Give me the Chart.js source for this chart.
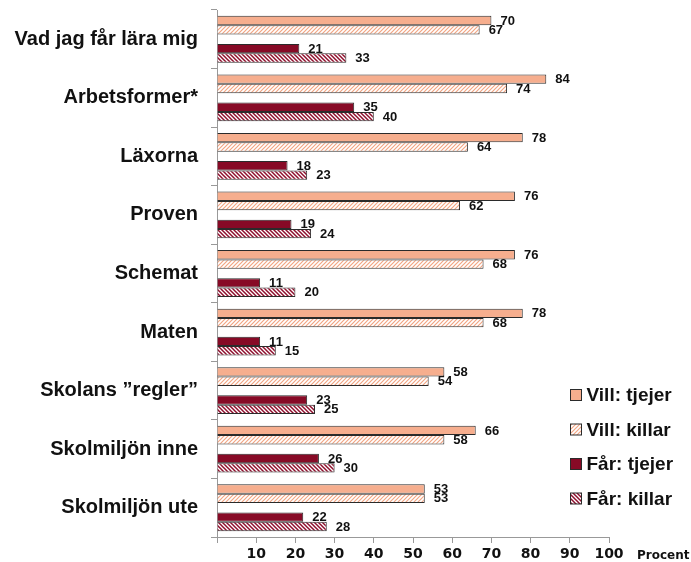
<!DOCTYPE html>
<html>
<head>
<meta charset="utf-8">
<script src="https://cdn.jsdelivr.net/npm/chart.js@4/dist/chart.umd.min.js"></script>
<style>
html,body{margin:0;padding:0;background:#fff;}
#c{display:block;}
</style>
</head>
<body>
<canvas id="c" width="691" height="562"></canvas>
<script>
const categories = ["Vad jag får lära mig","Arbetsformer*","Läxorna","Proven","Schemat","Maten","Skolans ”regler”","Skolmiljön inne","Skolmiljön ute"];
const villTjejer = [70,84,78,76,76,78,58,66,53];
const villKillar = [67,74,64,62,68,68,54,58,53];
const farTjejer  = [21,35,18,19,11,11,23,26,22];
const farKillar  = [33,40,23,24,20,15,25,30,28];
const xTicks = [10,20,30,40,50,60,70,80,90,100];
const seriesNames = ["Vill: tjejer","Vill: killar","Får: tjejer","Får: killar"];
const axisUnit = "Procent";

const SALMON = '#F6AE8E';
const DARKRED = '#870A26';
const EDGE = '#2b2b2b';

const canvas = document.getElementById('c');
const ctx = canvas.getContext('2d');

function hatch(color, dir, lw) {
  const s = 4;
  const c = document.createElement('canvas'); c.width = s; c.height = s;
  const x = c.getContext('2d');
  x.fillStyle = '#fff'; x.fillRect(0,0,s,s);
  x.strokeStyle = color; x.lineWidth = lw;
  x.beginPath();
  if (dir === '/') {
    x.moveTo(0,s); x.lineTo(s,0);
    x.moveTo(-1,1); x.lineTo(1,-1);
    x.moveTo(s-1,s+1); x.lineTo(s+1,s-1);
  } else {
    x.moveTo(0,0); x.lineTo(s,s);
    x.moveTo(-1,s-1); x.lineTo(1,s+1);
    x.moveTo(s-1,-1); x.lineTo(s+1,1);
  }
  x.stroke();
  return ctx.createPattern(c, 'repeat');
}

const villKillarFill = hatch('#F2A583', '/', 1.2);
const farKillarFill = hatch('#8E0E2C', '\\', 1.5);

const fills = [SALMON, villKillarFill, DARKRED, farKillarFill];

function ds(label, data, fill) {
  return { label, data, backgroundColor: fill, borderColor: EDGE, borderWidth: 1, borderSkipped: 'start' };
}

const datasets = [
  ds(seriesNames[0], villTjejer, fills[0]),
  ds(seriesNames[1], villKillar, fills[1]),
  { label: '', data: categories.map(() => null), backgroundColor: 'rgba(0,0,0,0)', borderWidth: 0, spacer: true },
  ds(seriesNames[2], farTjejer, fills[2]),
  ds(seriesNames[3], farKillar, fills[3])
];

const valueLabels = {
  id: 'valueLabels',
  afterDatasetsDraw(chart) {
    const c = chart.ctx;
    c.save();
    c.font = 'bold 13px "Liberation Sans", Arial, sans-serif';
    c.fillStyle = '#111';
    c.textAlign = 'left';
    c.textBaseline = 'middle';
    chart.data.datasets.forEach((d, i) => {
      if (d.spacer) return;
      const meta = chart.getDatasetMeta(i);
      meta.data.forEach((bar, j) => {
        const v = d.data[j];
        if (v == null) return;
        c.fillText(String(v), bar.x + 9, bar.y + 0.5);
      });
    });
    c.restore();
  }
};

const extras = {
  id: 'extras',
  afterDraw(chart) {
    const c = chart.ctx;
    c.save();
    c.font = 'bold 12px "DejaVu Sans", Verdana, sans-serif';
    c.fillStyle = '#111';
    c.textAlign = 'left';
    c.textBaseline = 'middle';
    c.fillText(axisUnit, 637, 556);
    const lx = 570.5, ly0 = 395, step = 34.5, box = 11;
    c.font = 'bold 19px "Liberation Sans", Arial, sans-serif';
    seriesNames.forEach((name, k) => {
      const cy = ly0 + k * step;
      c.fillStyle = fills[k];
      c.fillRect(lx, cy - box/2, box, box);
      c.strokeStyle = EDGE; c.lineWidth = 1;
      c.strokeRect(lx, cy - box/2, box, box);
      c.fillStyle = '#111';
      c.textBaseline = 'middle';
      c.fillText(name, lx + 16, cy + 1);
    });
    c.restore();
  }
};

new Chart(canvas, {
  type: 'bar',
  data: { labels: categories, datasets },
  options: {
    indexAxis: 'y',
    responsive: false,
    animation: false,
    layout: { padding: { top: 10, right: 82, left: 0, bottom: 0 } },
    datasets: { bar: { categoryPercentage: 0.8, barPercentage: 1.0, grouped: true } },
    plugins: { legend: { display: false }, tooltip: { enabled: false } },
    scales: {
      x: {
        min: 0, max: 100,
        afterBuildTicks(s) { s.ticks = [0].concat(xTicks).map(v => ({ value: v })); },
        ticks: {
          callback: v => (v === 0 ? '' : String(v)),
          font: { family: '"DejaVu Sans", Verdana, sans-serif', size: 14, weight: 'bold' },
          color: '#111',
          padding: 3,
          maxRotation: 0, autoSkip: false
        },
        grid: { drawOnChartArea: false, drawTicks: true, tickLength: 6, color: '#999' },
        border: { color: '#999', width: 1 },
        afterFit(s) { s.height = 25; s.paddingLeft = 0; s.paddingRight = 0; }
      },
      y: {
        ticks: {
          font: { family: '"Liberation Sans", Arial, sans-serif', size: 20, weight: 'bold' },
          color: '#111',
          padding: 13,
          autoSkip: false
        },
        grid: { drawOnChartArea: false, drawTicks: true, tickLength: 6, color: '#999', offset: true },
        border: { color: '#999', width: 1 },
        afterFit(s) { s.width = 217; s.paddingTop = 0; s.paddingBottom = 0; }
      }
    }
  },
  plugins: [valueLabels, extras]
});
</script>
</body>
</html>
